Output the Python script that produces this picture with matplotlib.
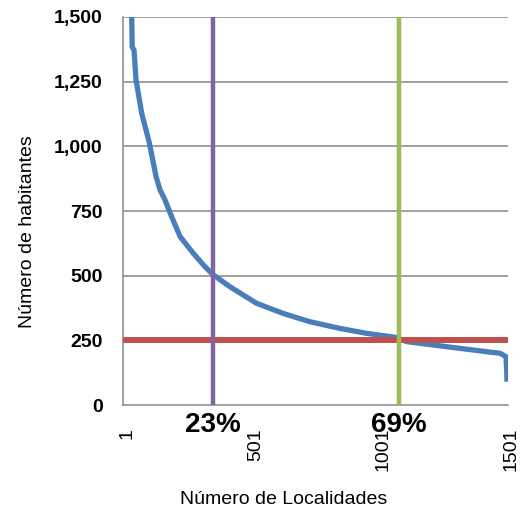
import matplotlib
matplotlib.use("Agg")
import matplotlib.pyplot as plt
import matplotlib.transforms as mtransforms
from matplotlib.ticker import FuncFormatter

# ---- data ----
loc_index = [1, 30, 34, 36, 43, 51, 73, 103, 129, 145, 164, 190, 223, 275, 320,
             353, 418, 522, 626, 730, 848, 952, 1069, 1108, 1212, 1316, 1421,
             1473, 1496, 1499, 1500]
habitantes = [4000, 1560, 1500, 1384, 1372, 1256, 1128, 1013, 883, 831, 793, 728,
              651, 586, 535, 503, 457, 393, 354, 322, 296, 277, 261, 245, 232,
              219, 206, 200, 187, 135, 90]
threshold = 250
marker_idx = [352, 1078]
marker_labels = ["23%", "69%"]
marker_colors = ["#8064A2", "#9BBB59"]
xtick_vals = [1, 501, 1001, 1501]
ytick_vals = [0, 250, 500, 750, 1000, 1250, 1500]
n_total = 1504

plt.rcParams['font.family'] = ['Liberation Sans', 'DejaVu Sans']

fig = plt.figure(figsize=(5.22, 5.16), dpi=100)
ax = fig.add_axes([123/522, 1-405/516, 385/522, 388/516])

grid_c = "#868686"
for v in ytick_vals[1:]:
    ax.axhline(v, color=grid_c, lw=1.1, zorder=1)

ax.plot(loc_index, habitantes, color="#4A7EBB", lw=3.8, zorder=3,
        solid_joinstyle='round', solid_capstyle='butt')
ax.axhline(threshold, color="#C0504D", lw=4.3, zorder=4)
for xi, c in zip(marker_idx, marker_colors):
    ax.axvline(xi, color=c, lw=3.2, zorder=5)

ax.set_xlim(0, n_total)
ax.set_ylim(0, 1500)

for s in ["top", "right"]:
    ax.spines[s].set_visible(False)
for s in ["left", "bottom"]:
    ax.spines[s].set_color(grid_c)
    ax.spines[s].set_linewidth(1.1)
    ax.spines[s].set_zorder(2)

ax.set_yticks(ytick_vals)
ax.yaxis.set_major_formatter(FuncFormatter(lambda v, p: f"{int(v):,}"))
ax.tick_params(axis='y', length=0, pad=14.5, labelsize=14)
for lab in ax.get_yticklabels():
    lab.set_fontweight('bold')

ax.set_xticks(xtick_vals)
ax.set_xticklabels([str(v) for v in xtick_vals], rotation=90)
ax.tick_params(axis='x', length=0, pad=16.5, labelsize=14)
offset = mtransforms.ScaledTranslation(4/100, 0, fig.dpi_scale_trans)
for lab in ax.get_xticklabels():
    lab.set_transform(lab.get_transform() + offset)

trans = mtransforms.blended_transform_factory(ax.transData, ax.transAxes)
for xi, t in zip(marker_idx, marker_labels):
    ax.text(xi, -0.052, t, transform=trans, ha='center', va='center',
            fontsize=20, fontweight='bold', zorder=6)

ax.set_ylabel("Número de habitantes", fontsize=14)
ax.yaxis.set_label_coords((36-123)/385, (405-232)/388)
ax.set_xlabel("Número de Localidades", fontsize=14)
ax.xaxis.set_label_coords((284-123)/385, (405-491)/388)

fig.savefig("out.png", dpi=100)
